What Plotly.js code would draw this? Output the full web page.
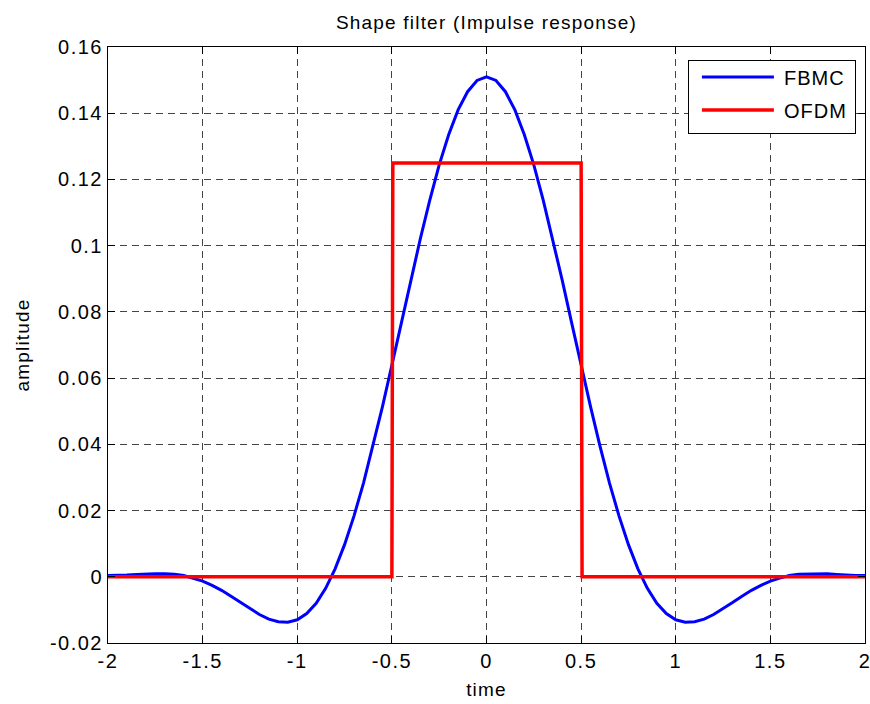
<!DOCTYPE html>
<html>
<head>
<meta charset="utf-8">
<script src="https://cdn.plot.ly/plotly-3.0.1.min.js"></script>
<style>
  html, body { margin: 0; padding: 0; background: #ffffff; }
  #chart { width: 870px; height: 704px; }
  #chart .gtitle { letter-spacing: 1.2px; }
  #chart .xtitle, #chart .ytitle { letter-spacing: 1.2px; }
  #chart .xtick text, #chart .ytick text { letter-spacing: 1.5px; }
  #chart .legendtext { letter-spacing: 1px; }
</style>
</head>
<body>
<div id="chart"></div>
<script>
// ---- data ----
const fbmcTime = [
  -2.00, -1.95, -1.90, -1.85, -1.80, -1.75, -1.70, -1.65, -1.60, -1.55,
  -1.50, -1.45, -1.40, -1.35, -1.30, -1.25, -1.20, -1.15, -1.10, -1.05,
  -1.00, -0.95, -0.90, -0.85, -0.80, -0.75, -0.70, -0.65, -0.60, -0.55,
  -0.50, -0.45, -0.40, -0.35, -0.30, -0.25, -0.20, -0.15, -0.10, -0.05,
   0.00,
   0.05,  0.10,  0.15,  0.20,  0.25,  0.30,  0.35,  0.40,  0.45,  0.50,
   0.55,  0.60,  0.65,  0.70,  0.75,  0.80,  0.85,  0.90,  0.95,  1.00,
   1.05,  1.10,  1.15,  1.20,  1.25,  1.30,  1.35,  1.40,  1.45,  1.50,
   1.55,  1.60,  1.65,  1.70,  1.75,  1.80,  1.85,  1.90,  1.95,  2.00
];
const fbmcAmplitude = [
   0.0004,  0.0004,  0.0005,  0.0007,  0.0009,  0.0009,  0.0009,  0.0008,  0.0004, -0.0004,
  -0.0013, -0.0026, -0.0041, -0.0059, -0.0078, -0.0097, -0.0114, -0.0128, -0.0136, -0.0137,
  -0.0130, -0.0111, -0.0080, -0.0035,  0.0024,  0.0097,  0.0184,  0.0283,  0.0394,  0.0513,
   0.0639,  0.0767,  0.0896,  0.1020,  0.1137,  0.1244,  0.1335,  0.1410,  0.1465,  0.1499,
   0.1510,
   0.1499,  0.1465,  0.1410,  0.1335,  0.1244,  0.1137,  0.1020,  0.0896,  0.0767,  0.0639,
   0.0513,  0.0394,  0.0283,  0.0184,  0.0097,  0.0024, -0.0035, -0.0080, -0.0111, -0.0130,
  -0.0137, -0.0136, -0.0128, -0.0114, -0.0097, -0.0078, -0.0059, -0.0041, -0.0026, -0.0013,
  -0.0004,  0.0004,  0.0008,  0.0009,  0.0009,  0.0009,  0.0007,  0.0005,  0.0004,  0.0004
];
const ofdmTime      = [-2, -0.5, -0.495, 0.5, 0.505, 2];
const ofdmAmplitude = [0, 0, 0.125, 0.125, 0, 0];

const seriesNames = ["FBMC", "OFDM"];

const xTickValues = [-2, -1.5, -1, -0.5, 0, 0.5, 1, 1.5, 2];
const xTickLabels = ["-2", "-1.5", "-1", "-0.5", "0", "0.5", "1", "1.5", "2"];
const yTickValues = [-0.02, 0, 0.02, 0.04, 0.06, 0.08, 0.1, 0.12, 0.14, 0.16];
const yTickLabels = ["-0.02", "0", "0.02", "0.04", "0.06", "0.08", "0.1", "0.12", "0.14", "0.16"];

const titleText = "Shape filter (Impulse response)";
const xTitle = "time";
const yTitle = "amplitude";

// ---- chart ----
const FONT = "Liberation Sans, Arial, Helvetica, sans-serif";

const traces = [
  {
    x: fbmcTime, y: fbmcAmplitude, name: seriesNames[0], legendgroup: "g1",
    type: "scatter", mode: "lines",
    line: { color: "#0000ff", width: 3 }
  },
  {
    x: ofdmTime, y: ofdmAmplitude, name: seriesNames[1], legendgroup: "g2",
    type: "scatter", mode: "lines",
    line: { color: "#ff0000", width: 3.5 }
  }
];

const axisCommon = {
  showline: true, linecolor: "#000000", linewidth: 1, mirror: "ticks",
  ticks: "inside", ticklen: 7, tickwidth: 1, tickcolor: "#000000",
  showgrid: true, gridcolor: "#444444", gridwidth: 1, griddash: "7px,5px",
  zeroline: false,
  tickfont: { family: FONT, size: 20, color: "#000000" },
  tickmode: "array",
  ticklabeloverflow: "allow",
  fixedrange: true
};

const layout = {
  width: 870, height: 704,
  paper_bgcolor: "#ffffff", plot_bgcolor: "#ffffff",
  margin: { l: 108, r: 5, t: 47, b: 61, pad: 0 },
  font: { family: FONT, color: "#000000" },
  title: {
    text: titleText,
    font: { family: FONT, size: 19, color: "#000000" },
    x: 0.5, xref: "paper", xanchor: "center",
    y: 1, yref: "container", yanchor: "top", pad: { t: 16 }
  },
  xaxis: Object.assign({}, axisCommon, {
    range: [-2, 2],
    tickvals: xTickValues, ticktext: xTickLabels,
    title: { text: xTitle, font: { family: FONT, size: 19, color: "#000000" }, standoff: 11 }
  }),
  yaxis: Object.assign({}, axisCommon, {
    range: [-0.02, 0.16],
    tickvals: yTickValues, ticktext: yTickLabels,
    title: { text: yTitle, font: { family: FONT, size: 19, color: "#000000" }, standoff: 22 }
  }),
  showlegend: true,
  legend: {
    x: 0.988, xanchor: "right", xref: "paper",
    y: 0.979, yanchor: "top", yref: "paper",
    bgcolor: "#ffffff", bordercolor: "#000000", borderwidth: 1,
    font: { family: FONT, size: 20, color: "#000000" },
    tracegroupgap: 4, itemwidth: 92
  }
};

Plotly.newPlot("chart", traces, layout, { displayModeBar: false, staticPlot: true }).then(function (gd) {
  // MATLAB-style legend: longer sample lines, text a little closer, rows a little higher
  gd.querySelectorAll(".legend .legendlines path").forEach(function (p) {
    p.setAttribute("d", "M13,0h72");
  });
  gd.querySelectorAll(".legend .legendtext").forEach(function (t) {
    const x = parseFloat(t.getAttribute("x")) || 0;
    t.setAttribute("x", x - 7);
  });
  gd.querySelectorAll(".legend .traces").forEach(function (g) {
    const tr = g.getAttribute("transform") || "";
    const m = tr.match(/translate\(\s*([-\d.eE]+)[ ,]+([-\d.eE]+)\s*\)/);
    if (m) {
      g.setAttribute("transform", "translate(" + m[1] + "," + (parseFloat(m[2]) - 3) + ")");
    }
  });
});
</script>
</body>
</html>
